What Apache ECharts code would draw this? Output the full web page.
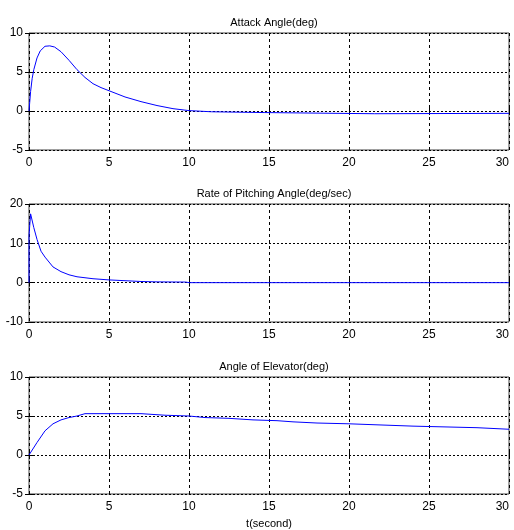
<!DOCTYPE html>
<html><head><meta charset="utf-8">
<script src="https://cdn.jsdelivr.net/npm/echarts@6/dist/echarts.min.js"></script>
<style>html,body{margin:0;padding:0;background:#fff}#c{width:514px;height:530px}</style>
</head><body><div id="c"></div>
<script>
const titles = ['Attack Angle(deg)', 'Rate of Pitching Angle(deg/sec)', 'Angle of Elevator(deg)'];
const xLabel = 't(second)';
const xTicks = [0, 5, 10, 15, 20, 25, 30];
const yRanges = [[-5, 10, 5], [-10, 20, 10], [-5, 10, 5]];

const attackT = [0, 0.1, 0.2, 0.3, 0.5, 0.7, 1.0, 1.3, 1.6, 2, 2.5, 3, 3.5, 4, 4.5, 5, 6, 7, 8, 9, 10, 11.4, 11.5, 14.7, 14.8, 21.6, 21.7, 30];
const attackV = [0, 2.5, 4.2, 5.3, 6.8, 7.7, 8.3, 8.35, 8.2, 7.6, 6.5, 5.3, 4.3, 3.5, 3.0, 2.6, 1.8, 1.2, 0.7, 0.3, 0.05, -0.1, -0.2, -0.2, -0.35, -0.35, -0.3, -0.3];

const pitchT = [0, 0, 0.1, 0.3, 0.5, 0.75, 1, 1.5, 2, 2.5, 3, 4, 5, 6, 7, 8, 9.8, 10, 30];
const pitchV = [0, 12, 17.5, 14, 11, 8, 6.5, 4, 2.8, 2.0, 1.5, 1.0, 0.7, 0.5, 0.3, 0.2, 0.15, 0, 0];

const elevT = [0, 0.5, 1, 1.5, 2, 2.5, 3, 3.5, 7, 7.1, 8.5, 8.6, 10, 10.1, 11, 11.1, 12.5, 12.6, 14, 14.1, 15.5, 15.6, 16.5, 16.6, 18, 18.1, 20, 20.1, 22, 22.1, 24, 24.1, 26, 26.1, 28, 28.1, 30];
const elevV = [0, 1.6, 3.1, 4.0, 4.5, 4.8, 5.0, 5.3, 5.3, 5.1, 5.1, 5.0, 5.0, 4.8, 4.8, 4.7, 4.7, 4.5, 4.5, 4.4, 4.4, 4.25, 4.25, 4.1, 4.1, 4.0, 4.0, 3.85, 3.85, 3.7, 3.7, 3.6, 3.6, 3.5, 3.5, 3.3, 3.3];

const seriesT = [attackT, pitchT, elevT];
const seriesV = [attackV, pitchV, elevV];

const FONT = '"Liberation Sans", Arial, sans-serif';
const gridPos = [{top: 33, height: 117}, {top: 204, height: 118}, {top: 377, height: 117}];
const grids = [], xAxes = [], yAxes = [], series = [], title = [];
const vDash = {color: '#000', width: 1, type: [3, 3]};
const hDash = {color: '#000', width: 1, type: [2, 2]};
const tick = {show: true, inside: true, length: 4, lineStyle: {color: '#000'}};
gridPos.forEach((g, i) => {
  grids.push({left: 29, width: 480, top: g.top, height: g.height, show: true, borderColor: '#404040', borderWidth: 1,
    backgroundColor: 'transparent', outerBoundsMode: 'none', containLabel: false});
  title.push({text: titles[i], left: 269, top: g.top - 21, textAlign: 'center',
    textStyle: {fontFamily: FONT, fontSize: 11, fontWeight: 'normal', color: '#000'}});
  xAxes.push({type: 'value', gridIndex: i, min: 0, max: 30, interval: 5,
    axisLine: {show: false}, axisTick: tick,
    axisLabel: {fontFamily: FONT, fontSize: 12, color: '#000', margin: 7, alignMaxLabel: 'right'},
    splitLine: {show: true, lineStyle: vDash},
    name: i === 2 ? xLabel : '', nameLocation: 'middle', nameGap: 24,
    nameTextStyle: {fontFamily: FONT, fontSize: 11, color: '#000'}});
  xAxes.push({type: 'value', gridIndex: i, position: 'top', min: 0, max: 30, interval: 5,
    axisLine: {show: false}, axisTick: tick, axisLabel: {show: false}, splitLine: {show: false}});
  const r = yRanges[i];
  yAxes.push({type: 'value', gridIndex: i, min: r[0], max: r[1], interval: r[2],
    axisLine: {show: false}, axisTick: tick,
    axisLabel: {fontFamily: FONT, fontSize: 12, color: '#000', margin: 6},
    splitLine: {show: true, lineStyle: hDash}});
  yAxes.push({type: 'value', gridIndex: i, position: 'right', min: r[0], max: r[1], interval: r[2],
    axisLine: {show: false}, axisTick: tick, axisLabel: {show: false}, splitLine: {show: false}});
  series.push({type: 'line', xAxisIndex: 2 * i, yAxisIndex: 2 * i, symbol: 'none', smooth: false,
    lineStyle: {color: '#0000ff', width: 1}, animation: false,
    data: seriesT[i].map((t, k) => [t, seriesV[i][k]])});
});
const chart = echarts.init(document.getElementById('c'), null, {renderer: 'canvas'});
chart.setOption({animation: false, title, grid: grids, xAxis: xAxes, yAxis: yAxes, series});
</script></body></html>
